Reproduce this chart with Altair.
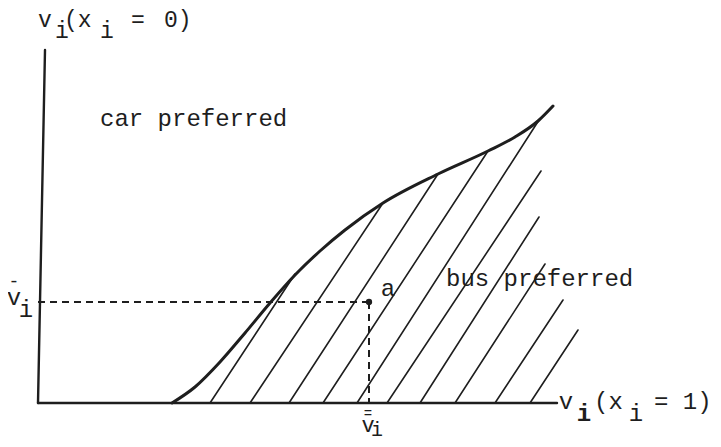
import altair as alt
import pandas as pd

INK = "#1e1e1e"

# Diagram units: origin at the corner of the two axes, y upwards.
curve_x = [134, 157, 182, 207, 232, 257, 282, 307, 345, 400, 450, 477, 500, 515]
curve_y = [0, 16, 41, 70, 100, 128, 152, 173, 200, 229, 252, 266, 282, 297]

hatch_x0 = [172, 212, 251, 285, 319, 349, 382, 417, 457, 492]
hatch_x1 = [257, 345, 400, 450, 501, 503, 501, 507, 525, 540]
hatch_y1 = [129, 200, 229, 252, 283, 232, 186, 139, 103, 73]

yaxis_x = [0, 7]
yaxis_y = [0, 353]
xaxis_x = [0, 519]

point_a_x = 331
point_a_y = 101

# text: (label, x, y, align, size, weight)
labels = [
    ("v", 7, 376, "center", 23, "normal"),
    ("i", 24, 365, "center", 23, "normal"),
    ("(x", 26, 376, "left", 23, "normal"),
    ("i", 69, 365, "center", 23, "normal"),
    ("=", 100, 376, "center", 23, "normal"),
    ("0)", 126, 376, "left", 23, "normal"),
    ("car preferred", 62, 277, "left", 24, "normal"),
    ("bus preferred", 408, 117, "left", 24, "normal"),
    ("a", 350, 107, "center", 24, "normal"),
    ("-", -24, 116, "center", 18, "normal"),
    ("v", -24, 98, "center", 24, "normal"),
    ("i", -12, 86, "center", 24, "normal"),
    ("=", 330, -15, "center", 14, "normal"),
    ("v", 330, -29, "center", 22, "normal"),
    ("i", 339, -33, "center", 20, "normal"),
    ("v", 528, -6, "center", 24, "normal"),
    ("i", 546, -18, "center", 24, "bold"),
    ("(x", 556, -6, "left", 24, "normal"),
    ("i", 598, -18, "center", 24, "normal"),
    ("= 1)", 616, -6, "left", 24, "normal"),
]

xs = alt.Scale(domain=[-30, 675], nice=False, zero=False)
ys = alt.Scale(domain=[-36, 395], nice=False, zero=False)

curve_df = pd.DataFrame({"x": curve_x, "y": curve_y, "o": range(len(curve_x))})
hatch_df = pd.DataFrame({"x0": hatch_x0, "y0": [0] * len(hatch_x0),
                         "x1": hatch_x1, "y1": hatch_y1})
axes_df = pd.DataFrame({
    "x0": [yaxis_x[0], xaxis_x[0]], "y0": [yaxis_y[0], 0],
    "x1": [yaxis_x[1], xaxis_x[1]], "y1": [yaxis_y[1], 0],
})
dash_df = pd.DataFrame({
    "x0": [0, point_a_x], "y0": [point_a_y, point_a_y],
    "x1": [point_a_x, point_a_x], "y1": [point_a_y, 0],
})
pt_df = pd.DataFrame({"x": [point_a_x], "y": [point_a_y]})
lab_df = pd.DataFrame(labels, columns=["t", "x", "y", "align", "size", "weight"])


def seg(df, width, dash=None):
    kw = dict(color=INK, strokeWidth=width, strokeCap="round")
    if dash:
        kw["strokeDash"] = dash
        kw["strokeCap"] = "butt"
    return alt.Chart(df).mark_rule(**kw).encode(
        x=alt.X("x0:Q", scale=xs, axis=None),
        y=alt.Y("y0:Q", scale=ys, axis=None),
        x2="x1:Q", y2="y1:Q",
    )


curve = alt.Chart(curve_df).mark_line(
    color=INK, strokeWidth=3, interpolate="monotone", strokeCap="round"
).encode(
    x=alt.X("x:Q", scale=xs, axis=None),
    y=alt.Y("y:Q", scale=ys, axis=None),
    order="o:Q",
)

point = alt.Chart(pt_df).mark_circle(color=INK, size=40, opacity=1).encode(
    x=alt.X("x:Q", scale=xs, axis=None),
    y=alt.Y("y:Q", scale=ys, axis=None),
)

text_layers = []
for align in ["left", "center"]:
    for weight in ["normal", "bold"]:
        for size in sorted(lab_df["size"].unique()):
            sub = lab_df[(lab_df["align"] == align) & (lab_df["weight"] == weight)
                         & (lab_df["size"] == size)]
            if len(sub) == 0:
                continue
            text_layers.append(
                alt.Chart(sub).mark_text(
                    align=align, baseline="alphabetic", font="Liberation Mono",
                    fontSize=int(size), fontWeight=weight, color=INK,
                ).encode(
                    x=alt.X("x:Q", scale=xs, axis=None),
                    y=alt.Y("y:Q", scale=ys, axis=None),
                    text="t:N",
                )
            )

chart = alt.layer(
    seg(hatch_df, 1.6),
    seg(axes_df, 2.4),
    seg(dash_df, 2, dash=[7, 5]),
    curve,
    point,
    *text_layers,
).properties(
    width=705, height=431, padding=0, autosize=alt.AutoSizeParams(type="none"),
    background="white",
).configure_view(strokeWidth=0)

chart.save("out.html", embed_options={"renderer": "svg", "actions": False})
